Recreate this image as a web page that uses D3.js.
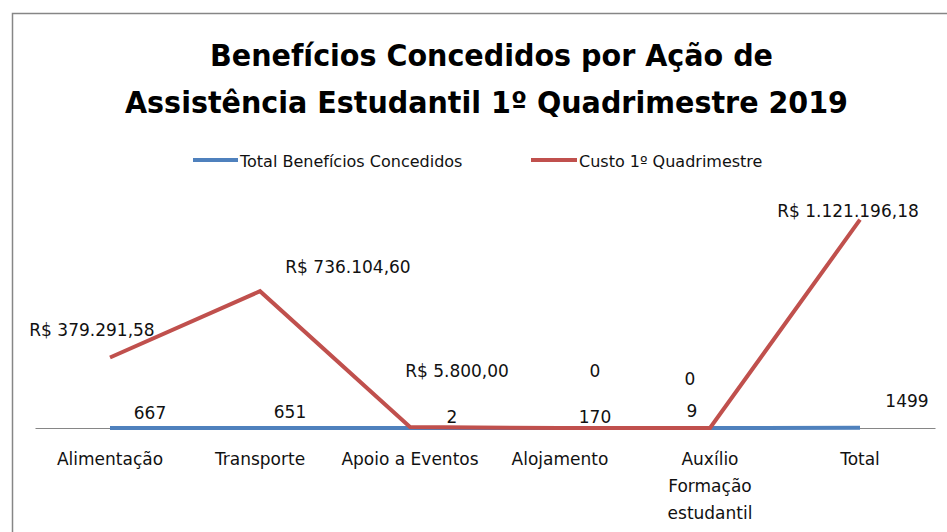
<!DOCTYPE html>
<html>
<head>
<meta charset="utf-8">
<script src="https://cdn.jsdelivr.net/npm/d3@7"></script>
<style>
  html, body { margin: 0; padding: 0; background: #fff; }
  svg { display: block; font-family: "DejaVu Sans", sans-serif; }
</style>
</head>
<body>
<svg id="chart" width="947" height="532"></svg>
<script>
// dados do gráfico
const categories = ['Alimentação', 'Transporte', 'Apoio a Eventos', 'Alojamento', 'Auxílio Formação estudantil', 'Total']
const categoryLines = [['Alimentação'], ['Transporte'], ['Apoio a Eventos'], ['Alojamento'], ['Auxílio', 'Formação', 'estudantil'], ['Total']]
const beneficios = [667, 651, 2, 170, 9, 1499]
const custo = [379291.58, 736104.60, 5800.00, 0, 0, 1121196.18]
const seriesNames = ['Total Benefícios Concedidos', 'Custo 1º Quadrimestre']
const titleLines = ['Benefícios Concedidos por Ação de', 'Assistência Estudantil 1º Quadrimestre 2019']
const titleWidths = [563, 723]

// deslocamento manual dos rótulos (como arrastados no Excel)
const custoLabelOffset = [[-18, -22], [88, -18], [47, -50], [35, -51], [-20, -43], [-12, -3]]
const beneficiosLabelOffset = [[40, -9], [30, -10], [42, -5], [35, -5], [-18, -11], [47, -21]]

const BLUE = '#4F81BD'
const RED = '#C0504D'
const GREY = '#868686'

const svg = d3.select('#chart')

// moldura do gráfico
svg.append('path')
  .attr('d', 'M12.5,532 L12.5,13.5 L947,13.5')
  .attr('fill', 'none')
  .attr('stroke', GREY)
  .attr('stroke-width', 1.5)

// título
svg.append('g').attr('class', 'title-g')
  .selectAll('text')
  .data(titleLines)
  .join('text')
  .attr('x', (d, i) => i === 0 ? 491.5 : 486.5)
  .attr('y', (d, i) => 66 + i * 47)
  .attr('text-anchor', 'middle')
  .attr('font-size', 30)
  .attr('font-weight', 'bold')
  .attr('fill', '#000')
  .attr('textLength', (d, i) => titleWidths[i])
  .attr('lengthAdjust', 'spacingAndGlyphs')
  .text(d => d)

// legenda
const legend = [
  { name: seriesNames[0], color: BLUE, x: 193, w: 45 },
  { name: seriesNames[1], color: RED, x: 531, w: 46 }
]
const lg = svg.append('g').attr('class', 'legend-g')
lg.selectAll('line')
  .data(legend)
  .join('line')
  .attr('x1', d => d.x)
  .attr('x2', d => d.x + d.w)
  .attr('y1', 160)
  .attr('y2', 160)
  .attr('stroke', d => d.color)
  .attr('stroke-width', 4)
lg.selectAll('text')
  .data(legend)
  .join('text')
  .attr('x', d => d.x + d.w + 2)
  .attr('y', 167)
  .attr('font-size', 16)
  .attr('fill', '#111')
  .text(d => d.name)

// escalas
const x = d3.scaleBand().domain(categories).range([35, 935])
const y = d3.scaleLinear().domain([0, 1200000]).range([428, 205])
const cx = c => x(c) + x.bandwidth() / 2

// eixo horizontal
const axis = svg.append('g')
  .attr('class', 'x-axis')
  .attr('transform', 'translate(0,' + y(0) + ')')
  .call(d3.axisBottom(x).tickSize(0).tickFormat(''))
axis.select('.domain').attr('stroke', GREY).attr('stroke-width', 1.2)

// rótulos das categorias
svg.append('g').attr('class', 'cat-labels')
  .selectAll('text')
  .data(categories)
  .join('text')
  .attr('text-anchor', 'middle')
  .attr('font-size', 17)
  .attr('fill', '#111')
  .each(function (c, i) {
    d3.select(this).selectAll('tspan')
      .data(categoryLines[i])
      .join('tspan')
      .attr('x', cx(c))
      .attr('y', (l, j) => 465 + j * 27)
      .text(l => l)
  })

// linhas
const line = d3.line()
  .x(d => cx(d.cat))
  .y(d => y(d.v))

const blueData = categories.map((c, i) => ({ cat: c, v: beneficios[i] }))
const redData = categories.map((c, i) => ({ cat: c, v: custo[i] }))

svg.append('path')
  .datum(blueData)
  .attr('d', line)
  .attr('fill', 'none')
  .attr('stroke', BLUE)
  .attr('stroke-width', 4)

svg.append('path')
  .datum(redData)
  .attr('d', line)
  .attr('fill', 'none')
  .attr('stroke', RED)
  .attr('stroke-width', 4)
  .attr('stroke-linejoin', 'miter')

// rótulos de dados
const ptBR = d3.formatLocale({ decimal: ',', thousands: '.', grouping: [3], currency: ['R$ ', ''] })
const fmtMoney = ptBR.format('$,.2f')

svg.append('g').attr('class', 'custo-labels')
  .selectAll('text')
  .data(redData)
  .join('text')
  .attr('x', (d, i) => cx(d.cat) + custoLabelOffset[i][0])
  .attr('y', (d, i) => y(d.v) + custoLabelOffset[i][1])
  .attr('text-anchor', 'middle')
  .attr('font-size', 17)
  .attr('fill', '#111')
  .text(d => d.v === 0 ? '0' : fmtMoney(d.v))

svg.append('g').attr('class', 'beneficios-labels')
  .selectAll('text')
  .data(blueData)
  .join('text')
  .attr('x', (d, i) => cx(d.cat) + beneficiosLabelOffset[i][0])
  .attr('y', (d, i) => y(d.v) + beneficiosLabelOffset[i][1])
  .attr('text-anchor', 'middle')
  .attr('font-size', 17)
  .attr('fill', '#111')
  .text(d => d.v)
</script>
</body>
</html>
